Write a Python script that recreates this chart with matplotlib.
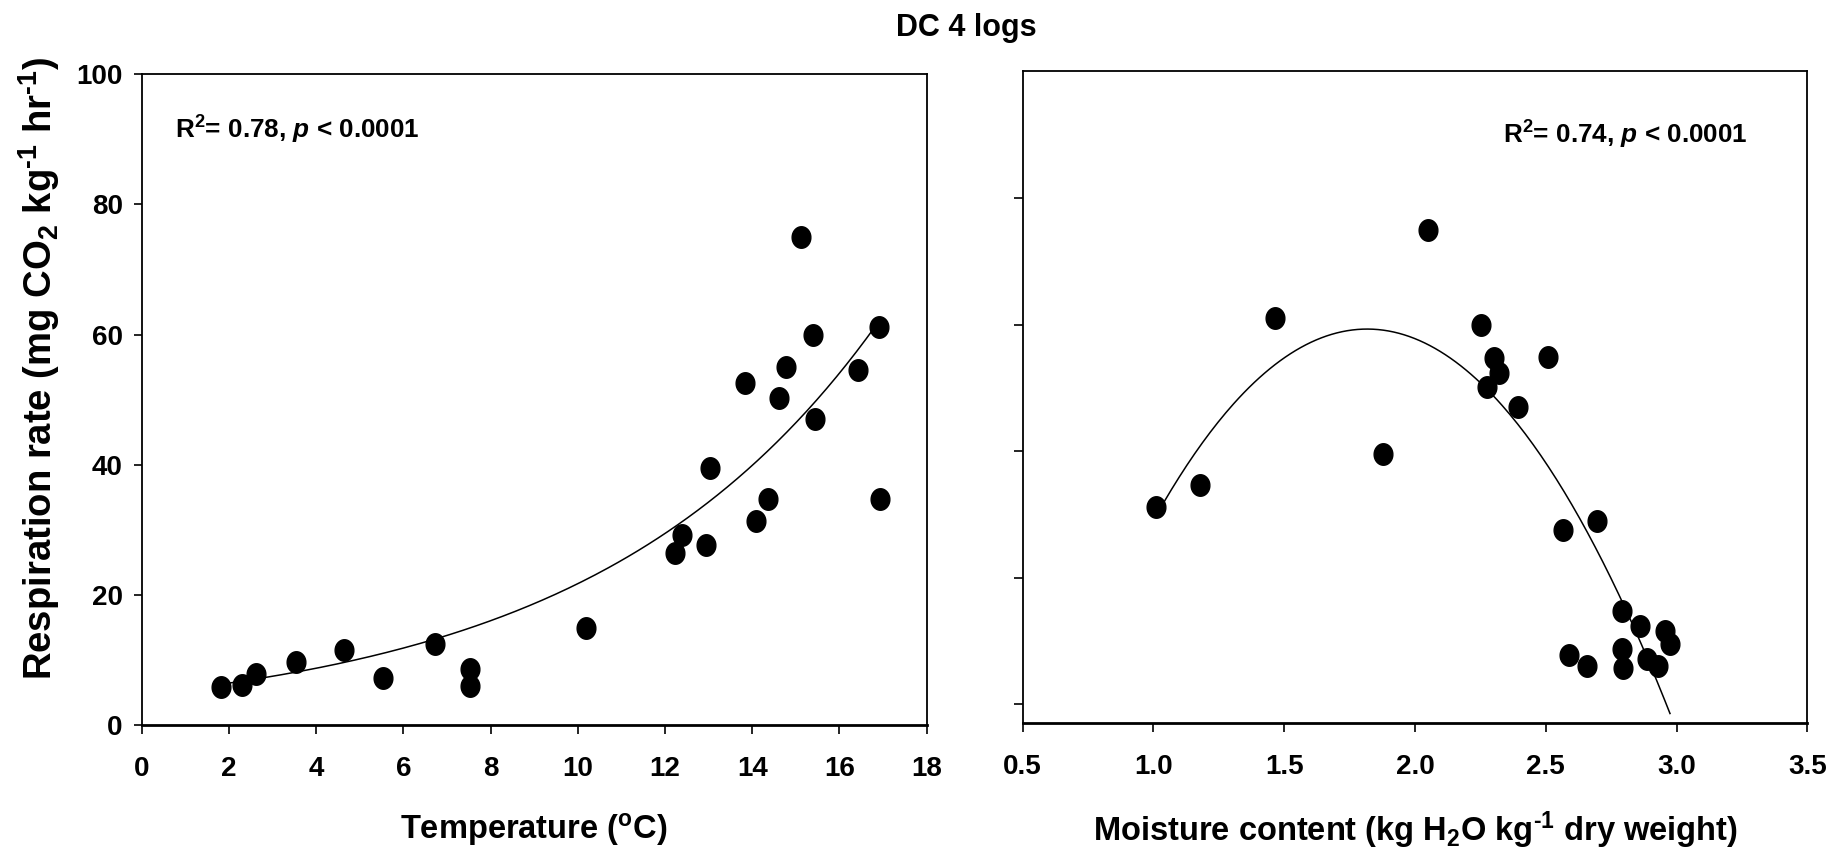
import numpy as np
import matplotlib
matplotlib.use("Agg")
import matplotlib.pyplot as plt

# ---- data ----
temp = [1.83, 2.31, 2.62, 3.55, 4.64, 5.53, 6.73, 7.53, 7.53, 10.18, 12.22, 12.40,
        12.95, 13.04, 14.08, 14.37, 16.92, 15.45, 15.13, 15.39, 16.90, 14.78, 16.42,
        13.83, 14.62]
resp_temp = [5.8, 6.2, 7.9, 9.7, 11.6, 7.2, 12.4, 8.6, 6.0, 14.9, 26.5, 29.2,
             27.6, 39.5, 31.3, 34.7, 34.7, 47.1, 75.0, 60.0, 61.2, 55.0, 54.6,
             52.5, 50.2]

moist = [2.049, 1.463, 2.251, 2.302, 2.508, 2.321, 2.276, 2.395, 1.879, 1.179,
         1.010, 2.564, 2.697, 2.790, 2.862, 2.955, 2.975, 2.790, 2.590, 2.656,
         2.796, 2.887, 2.928]
resp_moist = [74.9, 61.1, 59.9, 54.7, 54.9, 52.4, 50.1, 47.0, 39.5, 34.6,
              31.2, 27.5, 29.0, 14.8, 12.4, 11.6, 9.6, 8.7, 7.8, 6.1,
              5.8, 7.2, 6.1]

# fitted curves (parameters)
exp_a, exp_b = 4.75, 0.152          # y = a * exp(b * x)
quad_x0, quad_y0, quad_k = 1.817, 59.3, 45.3   # y = y0 - k (x - x0)^2

plt.rcParams['font.family'] = ['Liberation Sans', 'DejaVu Sans']
plt.rcParams['font.weight'] = 'bold'
plt.rcParams['axes.labelweight'] = 'bold'
plt.rcParams['mathtext.fontset'] = 'custom'
plt.rcParams['mathtext.rm'] = 'Liberation Sans:bold'
plt.rcParams['mathtext.it'] = 'Liberation Sans:italic:bold'
plt.rcParams['mathtext.bf'] = 'Liberation Sans:bold'

fig = plt.figure(figsize=(18.44, 8.56), dpi=100)
ax1 = fig.add_axes([0.0768, 0.1530, 0.4257, 0.7602])
ax2 = fig.add_axes([0.5546, 0.1557, 0.4255, 0.7608])

# elliptical marker, a bit taller than wide
t = np.linspace(0, 2 * np.pi, 60)
ell = np.column_stack([0.87 * np.cos(t), np.sin(t)])
msize = 15.5

tick_fs = 20

# left: temperature
ax1.plot(temp, resp_temp, linestyle='none', marker=ell, markersize=msize,
         color='black', zorder=3)
xt = np.linspace(min(temp), max(temp), 200)
ax1.plot(xt, exp_a * np.exp(exp_b * xt), color='black', lw=1.1, zorder=2)
ax1.set_xlim(0, 18)
ax1.set_ylim(0, 100)
ax1.set_xticks(np.arange(0, 19, 2))
ax1.set_yticks(np.arange(0, 101, 20))
ax1.tick_params(axis='x', direction='out', length=6.5, width=1.2, pad=16,
                labelsize=tick_fs)
ax1.tick_params(axis='y', direction='out', length=5.5, width=1.2, pad=8,
                labelsize=tick_fs)
ax1.set_xlabel('Temperature ($^{\\mathrm{o}}$C)', fontsize=23.5, labelpad=21)
ax1.text(0.0425, 0.914, 'R$^{2}$= 0.78, $p$ < 0.0001', transform=ax1.transAxes,
         fontsize=18.8, ha='left', va='center')

# right: moisture
ax2.plot(moist, resp_moist, linestyle='none', marker=ell, markersize=msize,
         color='black', zorder=3)
xm = np.linspace(min(moist), max(moist), 200)
ax2.plot(xm, quad_y0 - quad_k * (xm - quad_x0) ** 2, color='black', lw=1.1,
         zorder=2)
ax2.set_xlim(0.5, 3.5)
ax2.set_ylim(-2.9, 100)
ax2.set_xticks(np.arange(0.5, 3.51, 0.5))
ax2.set_xticklabels(['%.1f' % v for v in np.arange(0.5, 3.51, 0.5)])
ax2.set_yticks(np.arange(0, 81, 20))
ax2.set_yticklabels([])
ax2.tick_params(axis='x', direction='out', length=6.5, width=1.2, pad=16,
                labelsize=tick_fs)
ax2.tick_params(axis='y', direction='out', length=6.5, width=1.2)
ax2.set_xlabel('Moisture content (kg H$_{2}$O kg$^{\\text{-}1}$ dry weight)',
               fontsize=23.5, labelpad=21)
ax2.text(0.612, 0.902, 'R$^{2}$= 0.74, $p$ < 0.0001', transform=ax2.transAxes,
         fontsize=18.8, ha='left', va='center')

for ax in (ax1, ax2):
    for s in ax.spines.values():
        s.set_linewidth(1.3)
    ax.spines['bottom'].set_linewidth(2)

fig.text(0.0212, 0.570,
         'Respiration rate (mg CO$_{2}$ kg$^{\\text{-}1}$ hr$^{\\text{-}1}$)',
         rotation=90, ha='center', va='center', fontsize=27.5)
fig.text(0.524, 0.967, 'DC 4 logs', ha='center', va='center', fontsize=22)

fig.savefig('out.png', dpi=100)
